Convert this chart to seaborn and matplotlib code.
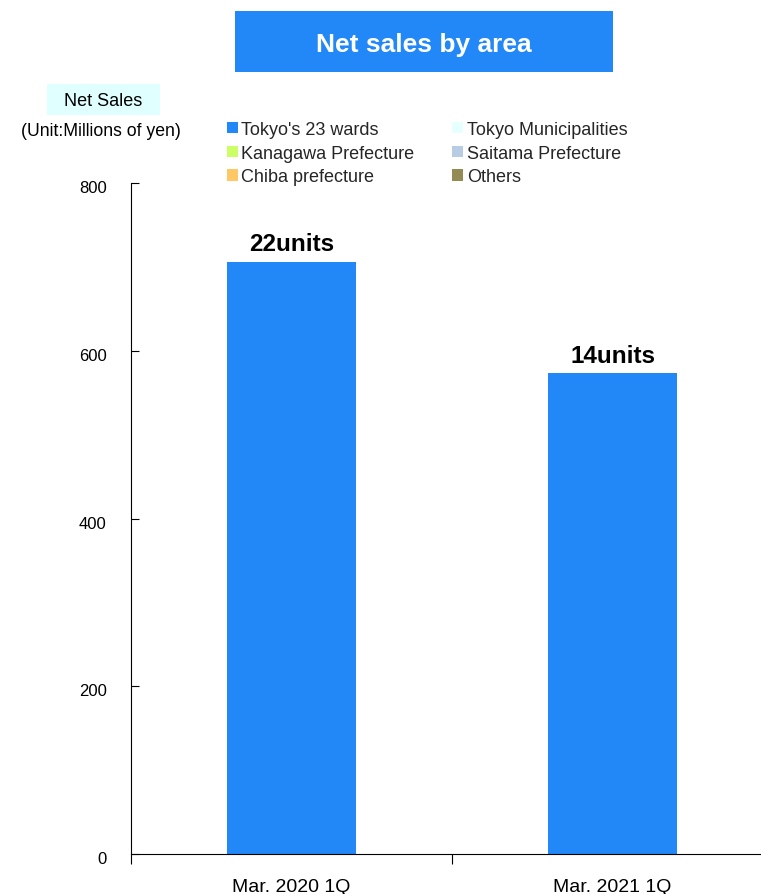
import matplotlib
matplotlib.use("Agg")
import matplotlib.pyplot as plt
from matplotlib.patches import Rectangle, Patch
from matplotlib.transforms import ScaledTranslation
import seaborn as sns
import pandas as pd

periods = ["Mar. 2020 1Q", "Mar. 2021 1Q"]
areas = ["Tokyo's 23 wards", "Tokyo Municipalities", "Kanagawa Prefecture",
         "Saitama Prefecture", "Chiba prefecture", "Others"]
tokyo_23 = [706, 573]
tokyo_muni = [0, 0]
kanagawa = [0, 0]
saitama = [0, 0]
chiba = [0, 0]
others = [0, 0]
unit_labels = ["22units", "14units"]
area_colors = ["#2288F8", "#E6FFFF", "#CCFF66", "#B8CCE4", "#FFC864", "#948A54"]

sns.set_theme(style="white")
plt.rcParams["font.family"] = ["Liberation Sans", "DejaVu Sans"]

fig = plt.figure(figsize=(7.61, 8.95), dpi=100)
ax = fig.add_axes([0.1721, 0.0447, 0.8437, 0.7497])

# stacked bars, one layer per area
series = [tokyo_23, tokyo_muni, kanagawa, saitama, chiba, others]
bottoms = [0, 0]
for name, vals, col in zip(areas, series, area_colors):
    df = pd.DataFrame({"period": periods, "value": vals})
    sns.barplot(data=df, x="period", y="value", color=col, width=0.4,
                bottom=bottoms, ax=ax, saturation=1, linewidth=0)
    bottoms = [b + v for b, v in zip(bottoms, vals)]

for i, (tot, lab) in enumerate(zip(bottoms, unit_labels)):
    ax.text(i, tot + 8, lab, ha="center", va="bottom", fontsize=17.5,
            fontweight="bold", color="black")

ax.set_xlim(-0.5, 1.5)
ax.set_ylim(0, 800)
ax.set_yticks([0, 200, 400, 600, 800])
ax.set_xlabel("")
ax.set_ylabel("")
for s in ["top", "right"]:
    ax.spines[s].set_visible(False)
for s in ["left", "bottom"]:
    ax.spines[s].set_color("black")
    ax.spines[s].set_linewidth(0.8)

ax.tick_params(axis="y", direction="in", length=6, width=0.8, color="black",
               labelsize=12, pad=17.5, left=True, labelcolor="black")
# nudge value labels slightly below their ticks
shift = ScaledTranslation(0, -3 / 100, fig.dpi_scale_trans)
for lab in ax.get_yticklabels():
    lab.set_transform(lab.get_transform() + shift)
ax.tick_params(axis="x", length=0, labelsize=14, pad=17, labelcolor="black")
# category separator ticks
ax.set_xticks([-0.5, 0.5], minor=True)
ax.tick_params(axis="x", which="minor", direction="out", length=7, width=0.8,
               color="black", bottom=True)

# title banner
fig.patches.append(Rectangle((235 / 761, 1 - 73 / 895), 378 / 761, 61 / 895,
                             transform=fig.transFigure, facecolor="#2288F8",
                             edgecolor="none"))
fig.text(424 / 761, 1 - 45 / 895, "Net sales by area", ha="center", va="center",
         color="white", fontsize=19, fontweight="bold")

# y-axis caption
fig.patches.append(Rectangle((47 / 761, 1 - 116 / 895), 113 / 761, 31 / 895,
                             transform=fig.transFigure, facecolor="#E0FFFF",
                             edgecolor="none"))
fig.text(103 / 761, 1 - 101 / 895, "Net Sales", ha="center", va="center",
         fontsize=13, color="black")
fig.text(101 / 761, 1 - 131 / 895, "(Unit:Millions of yen)", ha="center",
         va="center", fontsize=12.7, color="black")

handles = [Patch(facecolor=c, edgecolor="none", label=a)
           for a, c in zip(areas, area_colors)]
order = [0, 2, 4, 1, 3, 5]
fig.legend([handles[i] for i in order], [areas[i] for i in order],
           loc="upper left", bbox_to_anchor=(227 / 761, 1 - 122 / 895),
           ncol=2, frameon=False, fontsize=13, handlelength=0.6,
           handleheight=0.6, handletextpad=0.2, columnspacing=2.1,
           labelspacing=0.37, borderpad=0, borderaxespad=0)

fig.savefig("out.png", dpi=100)
